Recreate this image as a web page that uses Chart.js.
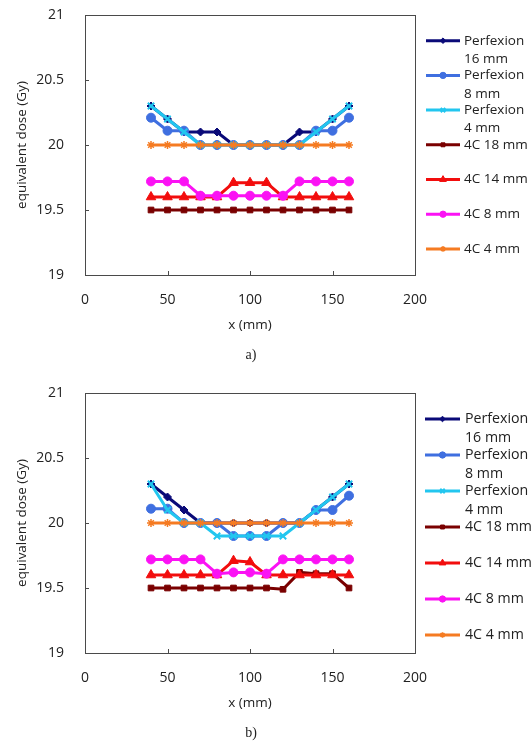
<!DOCTYPE html>
<html><head><meta charset="utf-8">
<script src="https://cdn.jsdelivr.net/npm/chart.js@4"></script>
<style>
html,body{margin:0;padding:0;background:#fff;width:532px;height:747px;overflow:hidden;position:relative}
.box{position:absolute;left:0;width:532px}
.cap{position:absolute;left:0;width:502px;text-align:center;font-family:"Liberation Serif","DejaVu Serif",serif;font-size:14px;color:#222;line-height:16px}
</style></head><body>
<div class="box" style="top:0;height:372px"><canvas id="ca" width="532" height="372"></canvas></div>
<div class="cap" style="top:347px">a)</div>
<div class="box" style="top:378px;height:369px"><canvas id="cb" width="532" height="369"></canvas></div>
<div class="cap" style="top:725px">b)</div>
<script>
// ---- data ----
const xPositions = [40, 50, 60, 70, 80, 90, 100, 110, 120, 130, 140, 150, 160];
const seriesNames = ["Perfexion 16 mm", "Perfexion 8 mm", "Perfexion 4 mm", "4C 18 mm", "4C 14 mm", "4C 8 mm", "4C 4 mm"];
const xTicks = [0, 50, 100, 150, 200];
const xTickLabels = ["0", "50", "100", "150", "200"];
const yTicks = [19, 19.5, 20, 20.5, 21];
const yTickLabels = ["19", "19.5", "20", "20.5", "21"];

// panel a)
const perf16A = [20.3, 20.2, 20.1, 20.1, 20.1, 20.0, 20.0, 20.0, 20.0, 20.1, 20.1, 20.2, 20.3];
const perf8A  = [20.21, 20.11, 20.11, 20.0, 20.0, 20.0, 20.0, 20.0, 20.0, 20.0, 20.11, 20.11, 20.21];
const perf4A  = [20.3, 20.2, 20.1, 20.0, 20.0, 20.0, 20.0, 20.0, 20.0, 20.0, 20.1, 20.2, 20.3];
const c18A    = [19.5, 19.5, 19.5, 19.5, 19.5, 19.5, 19.5, 19.5, 19.5, 19.5, 19.5, 19.5, 19.5];
const c14A    = [19.6, 19.6, 19.6, 19.6, 19.6, 19.71, 19.71, 19.71, 19.6, 19.6, 19.6, 19.6, 19.6];
const c8A     = [19.72, 19.72, 19.72, 19.61, 19.61, 19.61, 19.61, 19.61, 19.61, 19.72, 19.72, 19.72, 19.72];
const c4A     = [20.0, 20.0, 20.0, 20.0, 20.0, 20.0, 20.0, 20.0, 20.0, 20.0, 20.0, 20.0, 20.0];

// panel b)
const perf16B = [20.3, 20.2, 20.1, 20.0, 20.0, 20.0, 20.0, 20.0, 20.0, 20.0, 20.1, 20.2, 20.3];
const perf8B  = [20.11, 20.11, 20.0, 20.0, 20.0, 19.9, 19.9, 19.9, 20.0, 20.0, 20.1, 20.1, 20.21];
const perf4B  = [20.3, 20.1, 20.0, 20.0, 19.9, 19.9, 19.9, 19.9, 19.9, 20.0, 20.1, 20.2, 20.3];
const c18B    = [19.5, 19.5, 19.5, 19.5, 19.5, 19.5, 19.5, 19.5, 19.49, 19.62, 19.61, 19.61, 19.5];
const c14B    = [19.6, 19.6, 19.6, 19.6, 19.6, 19.71, 19.7, 19.6, 19.6, 19.6, 19.6, 19.6, 19.6];
const c8B     = [19.72, 19.72, 19.72, 19.72, 19.61, 19.62, 19.62, 19.61, 19.72, 19.72, 19.72, 19.72, 19.72];
const c4B     = [20.0, 20.0, 20.0, 20.0, 20.0, 20.0, 20.0, 20.0, 20.0, 20.0, 20.0, 20.0, 20.0];

// ---- styles ----
const colors = ["#0a0a78", "#3f6fe0", "#22c6ef", "#7a0000", "#f20d0d", "#fb12f4", "#f57b22"];
const pStyles = ["rectRot", "circle", "crossRot", "rect", "triangle", "circle", "star"];
const pRadius = [4, 4.5, 4.5, 4, 5.5, 4.5, 4];
const pBorder = [1, 1, 2, 1, 1, 1, 1.5];
const FONT = '"Open Sans", "Liberation Sans", sans-serif';
const TXT = '#222';

const framePlugin = {
  id: 'frame',
  beforeDatasetsDraw(chart) {
    const {ctx, chartArea: a, scales} = chart;
    ctx.save();
    ctx.strokeStyle = '#4a4a4a';
    ctx.lineWidth = 1;
    ctx.strokeRect(Math.round(a.left) + 0.5, Math.round(a.top) + 0.5, Math.round(a.right - a.left), Math.round(a.bottom - a.top));
    ctx.beginPath();
    scales.x.ticks.forEach(t => {
      const px = Math.round(scales.x.getPixelForValue(t.value)) + 0.5;
      ctx.moveTo(px, a.bottom); ctx.lineTo(px, a.bottom - 4);
    });
    scales.y.ticks.forEach(t => {
      const py = Math.round(scales.y.getPixelForValue(t.value)) + 0.5;
      ctx.moveTo(a.left, py); ctx.lineTo(a.left + 4, py);
    });
    ctx.stroke();
    ctx.restore();
  }
};

const sideLegend = {
  id: 'sideLegend',
  afterDraw(chart, args, o) {
    const ctx = chart.ctx;
    ctx.save();
    ctx.font = o.fontSize + 'px ' + FONT;
    ctx.textBaseline = 'middle';
    ctx.textAlign = 'left';
    chart.data.datasets.forEach((ds, i) => {
      const y = o.y0 + i * o.dy;
      ctx.strokeStyle = ds.borderColor;
      ctx.fillStyle = ds.borderColor;
      ctx.lineWidth = 3;
      ctx.beginPath(); ctx.moveTo(o.x0, y); ctx.lineTo(o.x0 + o.len, y); ctx.stroke();
      ctx.lineWidth = ds.pointBorderWidth;
      Chart.helpers.drawPoint(ctx, {pointStyle: ds.pointStyle, radius: ds.pointRadius * 0.7, borderWidth: ds.pointBorderWidth, rotation: 0}, o.x0 + o.len / 2, y);
      const words = ds.label.split(' ');
      const lines = [];
      let cur = '';
      words.forEach(w => {
        const t = cur ? cur + ' ' + w : w;
        if (cur && ctx.measureText(t).width > o.maxW) { lines.push(cur); cur = w; } else cur = t;
      });
      lines.push(cur);
      ctx.fillStyle = TXT;
      lines.forEach((l, k) => ctx.fillText(l, o.tx, y + k * o.lh));
    });
    ctx.restore();
  }
};

function makeChart(id, sets, legendOpts, bottomPad) {
  return new Chart(document.getElementById(id), {
    type: 'line',
    data: {
      datasets: seriesNames.map((name, i) => ({
        label: name,
        data: xPositions.map((x, k) => ({x: x, y: sets[i][k]})),
        borderColor: colors[i],
        backgroundColor: colors[i],
        pointBackgroundColor: colors[i],
        pointBorderColor: colors[i],
        borderWidth: 3,
        pointStyle: pStyles[i],
        pointRadius: pRadius[i],
        pointBorderWidth: pBorder[i],
        tension: 0,
        fill: false,
        order: 10 - i
      }))
    },
    options: {
      responsive: false,
      animation: false,
      devicePixelRatio: 1,
      layout: {padding: {left: 0, right: 117, top: 15, bottom: bottomPad}},
      plugins: {legend: {display: false}, tooltip: {enabled: false}, sideLegend: legendOpts},
      scales: {
        x: {
          type: 'linear', min: 0, max: 200,
          afterBuildTicks: s => { s.ticks = xTicks.map(v => ({value: v})); },
          afterFit: s => { s.height = 58; },
          grid: {display: false, drawTicks: true, tickLength: 17, color: 'rgba(0,0,0,0)'},
          border: {display: false},
          ticks: {padding: 0, color: TXT, font: {family: FONT, size: 14}, maxRotation: 0, autoSkip: false,
                  callback: (v, i) => xTickLabels[i]},
          title: {display: true, text: 'x (mm)', color: TXT, font: {family: FONT, size: 13.5}, padding: {top: 0, bottom: 0}}
        },
        y: {
          type: 'linear', min: 19, max: 21,
          afterBuildTicks: s => { s.ticks = yTicks.map(v => ({value: v})); },
          afterFit: s => { s.width = 85; },
          grid: {display: false, drawTicks: true, tickLength: 21, color: 'rgba(0,0,0,0)'},
          border: {display: false},
          ticks: {padding: 0, color: TXT, font: {family: FONT, size: 14},
                  callback: (v, i) => yTickLabels[i]},
          title: {display: true, text: 'equivalent dose (Gy)', color: TXT, font: {family: FONT, size: 13.5}, padding: {top: 14, bottom: 0}}
        }
      }
    },
    plugins: [framePlugin, sideLegend]
  });
}

const chartA = makeChart('ca', [perf16A, perf8A, perf4A, c18A, c14A, c8A, c4A],
  {x0: 426, len: 34, tx: 464, y0: 40.7, dy: 34.7, lh: 18.3, fontSize: 13.5, maxW: 68}, 39);
const chartB = makeChart('cb', [perf16B, perf8B, perf4B, c18B, c14B, c8B, c4B],
  {x0: 425, len: 35, tx: 465, y0: 41, dy: 36, lh: 19, fontSize: 14.2, maxW: 70}, 36);
</script>
</body></html>
